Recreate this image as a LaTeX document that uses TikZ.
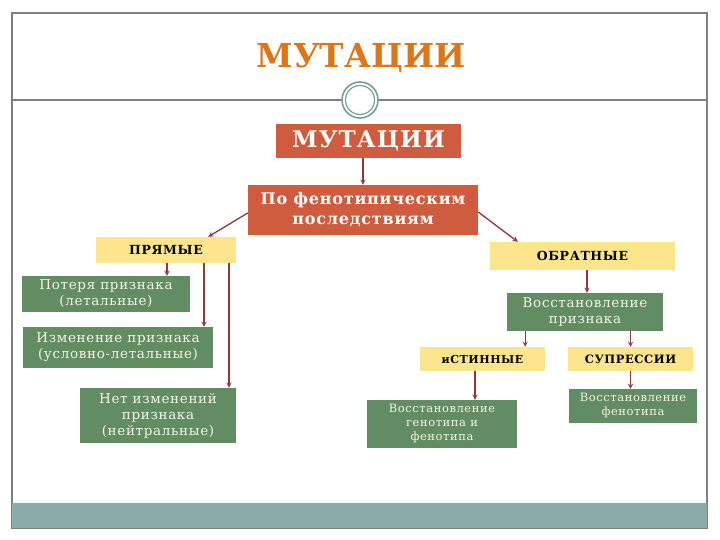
\documentclass[tikz,border=0pt]{standalone}
\usepackage{fontspec}
\setmainfont{DejaVu Serif}
\newfontfamily\boxfont[LetterSpace=5]{DejaVu Serif}
\definecolor{redbox}{HTML}{CF5C3F}
\definecolor{greenbox}{HTML}{628C62}
\definecolor{yellowbox}{HTML}{FCE58C}
\definecolor{arrowred}{HTML}{8E3A3A}
\definecolor{framegray}{HTML}{808080}
\definecolor{bandteal}{HTML}{8AABA9}
\definecolor{ringteal}{HTML}{7C9C9C}
\definecolor{titleorange}{HTML}{DD7519}
\definecolor{palegreen}{HTML}{F6F4E8}

\begin{document}
\begin{tikzpicture}[x=1pt,y=-1pt,
    redbox/.style={fill=redbox, text=white, inner sep=0pt, align=center},
    yellowbox/.style={fill=yellowbox, font=\boxfont\bfseries\fontsize{12.5}{14}\selectfont, inner sep=0pt},
    greenbox/.style={fill=greenbox, text=palegreen, inner sep=0pt, align=center},
    link/.style={draw=arrowred, line width=1.3pt, ->, >=stealth}]
    \useasboundingbox (0,0) rectangle (720,540);
    % slide frame
    \draw[framegray, line width=1.2pt] (12,13) rectangle (707,528);
    \fill[bandteal] (12,503) rectangle (707,528);
    \draw[framegray, line width=1.2pt] (12,100) -- (707,100);
    \draw[ringteal, line width=1.6pt, fill=white] (360,100) circle (18);
    \draw[ringteal, line width=1.2pt] (360,100) circle (14.5);
    \node[text=titleorange, font=\bfseries\fontsize{33}{36}\selectfont] (title) at (361,58) {МУТАЦИИ};

    % top of the tree
    \node[redbox, minimum width=185, minimum height=34, font=\boxfont\bfseries\fontsize{23}{26}\selectfont] (mut) at (368.5,141) {МУТАЦИИ};
    \node[redbox, minimum width=230, minimum height=50, font=\boxfont\bfseries\fontsize{16}{20}\selectfont] (po) at (363,210) {По фенотипическим\\последствиям};
    \node[yellowbox, minimum width=140, minimum height=26] (pr) at (166,250) {ПРЯМЫЕ};
    \node[yellowbox, minimum width=185, minimum height=28] (ob) at (582.5,256) {ОБРАТНЫЕ};

    % direct mutations
    \node[greenbox, minimum width=168, minimum height=36, font=\boxfont\fontsize{13.5}{16}\selectfont] (g1) at (106,294) {Потеря признака\\(летальные)};
    \node[greenbox, minimum width=190, minimum height=41, font=\boxfont\fontsize{13.5}{16}\selectfont] (g2) at (118,347.5) {Изменение признака\\(условно-летальные)};
    \node[greenbox, minimum width=156, minimum height=55, font=\boxfont\fontsize{13.5}{16}\selectfont] (g3) at (158,415.5) {Нет изменений\\признака\\(нейтральные)};

    % reverse mutations
    \node[greenbox, minimum width=156, minimum height=38, font=\boxfont\fontsize{13.5}{16}\selectfont] (vp) at (585,312) {Восстановление\\признака};
    \node[yellowbox, minimum width=125, minimum height=24, font=\boxfont\bfseries\fontsize{11}{12}\selectfont] (ist) at (482.5,359) {иСТИННЫЕ};
    \node[yellowbox, minimum width=125, minimum height=24, font=\boxfont\bfseries\fontsize{11.5}{12}\selectfont] (sup) at (630.5,359) {СУПРЕССИИ};
    \node[greenbox, minimum width=150, minimum height=48, font=\boxfont\fontsize{11.5}{14}\selectfont] (vgf) at (442,424) {Восстановление\\генотипа и\\фенотипа};
    \node[greenbox, minimum width=128, minimum height=34, font=\boxfont\fontsize{11.5}{14}\selectfont] (vf) at (633,406) {Восстановление\\фенотипа};

    % connectors
    \draw[link] (po.north |- mut.south) -- (po.north);
    \draw[link] ([yshift=-3pt]po.west) -- ([xshift=-28pt]pr.north east);
    \draw[link] ([yshift=-2pt]po.east) -- ([xshift=28pt]ob.north west);
    \coordinate (p1) at ([xshift=1pt]pr.south);
    \coordinate (p2) at ([xshift=38pt]pr.south);
    \coordinate (p3) at ([xshift=63pt]pr.south);
    \draw[link] (p1) -- (p1 |- g1.north);
    \draw[link] (p2) -- (p2 |- g2.north);
    \draw[link] (p3) -- (p3 |- g3.north);
    \coordinate (o1) at ([xshift=4.5pt]ob.south);
    \draw[link] (o1) -- (o1 |- vp.north);
    \coordinate (v1) at ([xshift=-20pt]ist.north east);
    \draw[link] (v1 |- vp.south) -- (v1);
    \draw[link] (sup.north |- vp.south) -- (sup.north);
    \coordinate (i1) at ([xshift=-7.5pt]ist.south);
    \draw[link] (i1) -- (i1 |- vgf.north);
    \draw[link] (sup.south) -- (sup.south |- vf.north);
\end{tikzpicture}
\end{document}
